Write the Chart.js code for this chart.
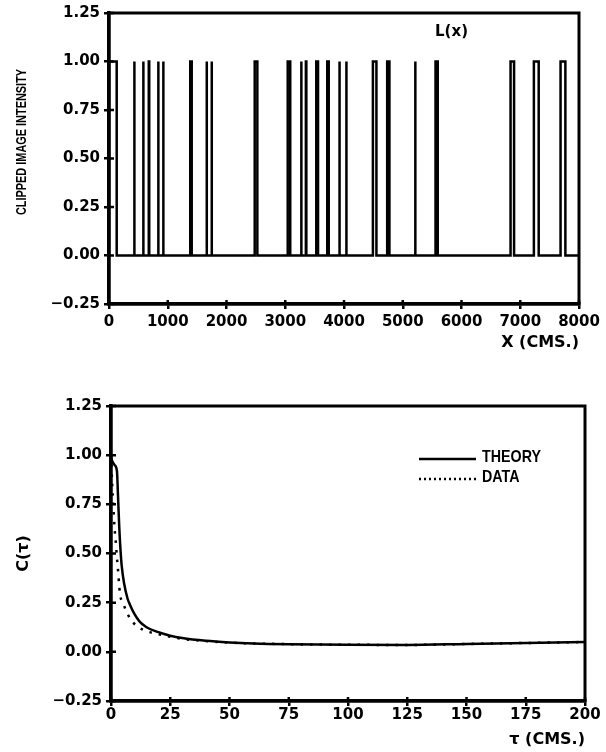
<!DOCTYPE html>
<html>
<head>
<meta charset="utf-8">
<script src="https://cdn.jsdelivr.net/npm/chart.js@4.4.1/dist/chart.umd.min.js"></script>
<style>
  body { margin: 0; background: #fff; }
  canvas { position: absolute; left: 0; }
  #top { top: 0; }
  #bottom { top: 360px; }
</style>
</head>
<body>
<canvas id="top" width="606" height="360"></canvas>
<canvas id="bottom" width="606" height="392"></canvas>
<script>
// clipped image L(x): x where each pulse (intensity 1) starts and ends, in cms
const pulseStart = [0, 427, 580, 677, 835, 920, 1383, 1659, 1744, 2480, 3042, 3269, 3351, 3528, 3715, 3919, 4036, 4492, 4735, 5209, 5558, 6835, 7232, 7686];
const pulseEnd = [131, 435, 588, 685, 843, 928, 1408, 1667, 1752, 2525, 3085, 3277, 3359, 3558, 3740, 3927, 4044, 4552, 4773, 5217, 5596, 6895, 7314, 7768];

// correlation C(tau)
const tauTheory = [0, 0.5, 1.5, 2.5, 3, 3.5, 4, 4.5, 5.5, 7, 8, 10, 12, 15, 20, 25, 30, 40, 50, 60, 75, 100, 125, 150, 175, 200];
const cTheory = [0.99, 0.97, 0.95, 0.92, 0.78, 0.63, 0.52, 0.44, 0.35, 0.27, 0.24, 0.19, 0.155, 0.125, 0.1, 0.082, 0.07, 0.056, 0.048, 0.043, 0.039, 0.036, 0.035, 0.04, 0.045, 0.05];
const tauData = [0, 0.5, 1, 1.5, 2, 2.5, 3, 3.5, 4, 5, 6, 8, 11, 15, 20, 25, 30, 40, 50, 75, 100, 125, 150, 175, 200];
const cData = [1.0, 0.85, 0.74, 0.63, 0.56, 0.48, 0.41, 0.33, 0.28, 0.25, 0.22, 0.17, 0.13, 0.105, 0.09, 0.077, 0.066, 0.055, 0.047, 0.039, 0.036, 0.035, 0.04, 0.045, 0.05];

const seriesNames = ['THEORY', 'DATA'];

const DIGITS = "'DejaVu Sans', sans-serif";
const TEXT = "'Liberation Sans', Arial, sans-serif";

Chart.defaults.color = '#000';
Chart.defaults.font.family = DIGITS;
Chart.defaults.font.weight = 'bold';
Chart.defaults.font.size = 15;

function fmtY(v) {
  return (v < 0 ? '\u2212' : '') + Math.abs(v).toFixed(2);
}

// squeezed text, the original lettering is narrow
function narrowText(ctx, str, x, y, squeeze) {
  ctx.save();
  ctx.translate(x, y);
  ctx.scale(squeeze, 1);
  ctx.fillText(str, 0, 0);
  ctx.restore();
}

// box round the plot + the tick marks that poke inside
const frame = {
  id: 'frame',
  afterDraw(chart) {
    const { ctx, chartArea: a, scales } = chart;
    ctx.save();
    ctx.strokeStyle = '#000';
    ctx.lineWidth = 3;
    ctx.strokeRect(a.left, a.top, a.right - a.left, a.bottom - a.top);
    ctx.lineWidth = 2.5;
    ctx.beginPath();
    scales.x.ticks.forEach(t => {
      const px = scales.x.getPixelForValue(t.value);
      ctx.moveTo(px, a.bottom);
      ctx.lineTo(px, a.bottom - 4);
    });
    scales.y.ticks.forEach(t => {
      const py = scales.y.getPixelForValue(t.value);
      ctx.moveTo(a.left, py);
      ctx.lineTo(a.left + 5, py);
    });
    ctx.stroke();
    ctx.restore();
  }
};

function axisStyle(min, max, step, fmt, pad) {
  return {
    type: 'linear',
    min: min,
    max: max,
    ticks: { stepSize: step, callback: fmt, padding: pad, color: '#000' },
    grid: { drawOnChartArea: false, drawTicks: true, tickLength: 5, color: '#000', lineWidth: 2.5 },
    border: { color: '#000', width: 3.5 }
  };
}

// ---- top chart: L(x)
const signal = [{ x: 0, y: 0 }];
pulseStart.forEach((s, i) => {
  signal.push({ x: s, y: 0 }, { x: s, y: 1 }, { x: pulseEnd[i], y: 1 }, { x: pulseEnd[i], y: 0 });
});
signal.push({ x: 8000, y: 0 });

const topNotes = {
  id: 'topNotes',
  afterDraw(chart) {
    const { ctx, scales } = chart;
    ctx.save();
    ctx.fillStyle = '#000';
    ctx.font = 'bold 15px ' + DIGITS;
    ctx.textAlign = 'center';
    ctx.textBaseline = 'alphabetic';
    ctx.fillText('L(x)', scales.x.getPixelForValue(5830), 36);
    ctx.translate(22, 142);
    ctx.rotate(-Math.PI / 2);
    ctx.font = 'bold 14px ' + TEXT;
    ctx.textBaseline = 'middle';
    narrowText(ctx, 'CLIPPED IMAGE INTENSITY', 0, 0, 0.78);
    ctx.restore();
  }
};

const xTop = axisStyle(0, 8000, 1000, v => String(v), 4);
xTop.title = { display: true, text: 'X (CMS.)', align: 'end', font: { size: 16, family: DIGITS, weight: 'bold' }, padding: { top: 0, bottom: 8 } };
xTop.afterFit = s => { s.height = 56; };
const yTop = axisStyle(-0.25, 1.25, 0.25, fmtY, 4);
yTop.afterFit = s => { s.width = 109; };

new Chart(document.getElementById('top'), {
  type: 'line',
  data: {
    datasets: [{
      data: signal,
      borderColor: '#000',
      borderWidth: 2.5,
      borderJoinStyle: 'miter',
      pointRadius: 0,
      fill: false
    }]
  },
  options: {
    responsive: false,
    animation: false,
    layout: { padding: { top: 13, right: 27, left: 0, bottom: 0 } },
    plugins: { legend: { display: false }, tooltip: { enabled: false } },
    scales: { x: xTop, y: yTop }
  },
  plugins: [frame, topNotes]
});

// ---- bottom chart: C(tau)
const legendBox = {
  id: 'legendBox',
  afterDraw(chart) {
    const { ctx } = chart;
    const rows = [99, 119];
    ctx.save();
    ctx.fillStyle = '#000';
    ctx.font = 'bold 17px ' + TEXT;
    ctx.textAlign = 'left';
    ctx.textBaseline = 'alphabetic';
    chart.data.datasets.forEach((ds, i) => {
      ctx.strokeStyle = '#000';
      ctx.lineWidth = ds.borderWidth;
      ctx.setLineDash(ds.borderDash ? [2, 3] : []);
      ctx.beginPath();
      ctx.moveTo(419, rows[i]);
      ctx.lineTo(476, rows[i]);
      ctx.stroke();
      narrowText(ctx, ds.label, 482, rows[i] + 3, 0.84);
    });
    ctx.restore();
  }
};

const xBot = axisStyle(0, 200, 25, v => String(v), 0);
xBot.title = { display: true, text: '\u03c4 (CMS.)', align: 'end', font: { size: 16, family: DIGITS, weight: 'bold' }, padding: { top: 0, bottom: 3 } };
xBot.afterFit = s => { s.height = 51; };
const yBot = axisStyle(-0.25, 1.25, 0.25, fmtY, 4);
yBot.title = { display: true, text: 'C(\u03c4)', font: { size: 16, family: DIGITS, weight: 'bold' }, padding: { top: 14, bottom: 0 } };
yBot.afterFit = s => { s.width = 111; };

new Chart(document.getElementById('bottom'), {
  type: 'line',
  data: {
    datasets: [{
      label: seriesNames[0],
      data: tauTheory.map((t, i) => ({ x: t, y: cTheory[i] })),
      borderColor: '#000',
      borderWidth: 2.5,
      cubicInterpolationMode: 'monotone',
      pointRadius: 0
    }, {
      label: seriesNames[1],
      data: tauData.map((t, i) => ({ x: t, y: cData[i] })),
      borderColor: '#000',
      borderWidth: 2.5,
      borderDash: [2.5, 7],
      cubicInterpolationMode: 'monotone',
      pointRadius: 0
    }]
  },
  options: {
    responsive: false,
    animation: false,
    layout: { padding: { top: 46, right: 21, left: 0, bottom: 0 } },
    plugins: { legend: { display: false }, tooltip: { enabled: false } },
    scales: { x: xBot, y: yBot }
  },
  plugins: [frame, legendBox]
});
</script>
</body>
</html>
